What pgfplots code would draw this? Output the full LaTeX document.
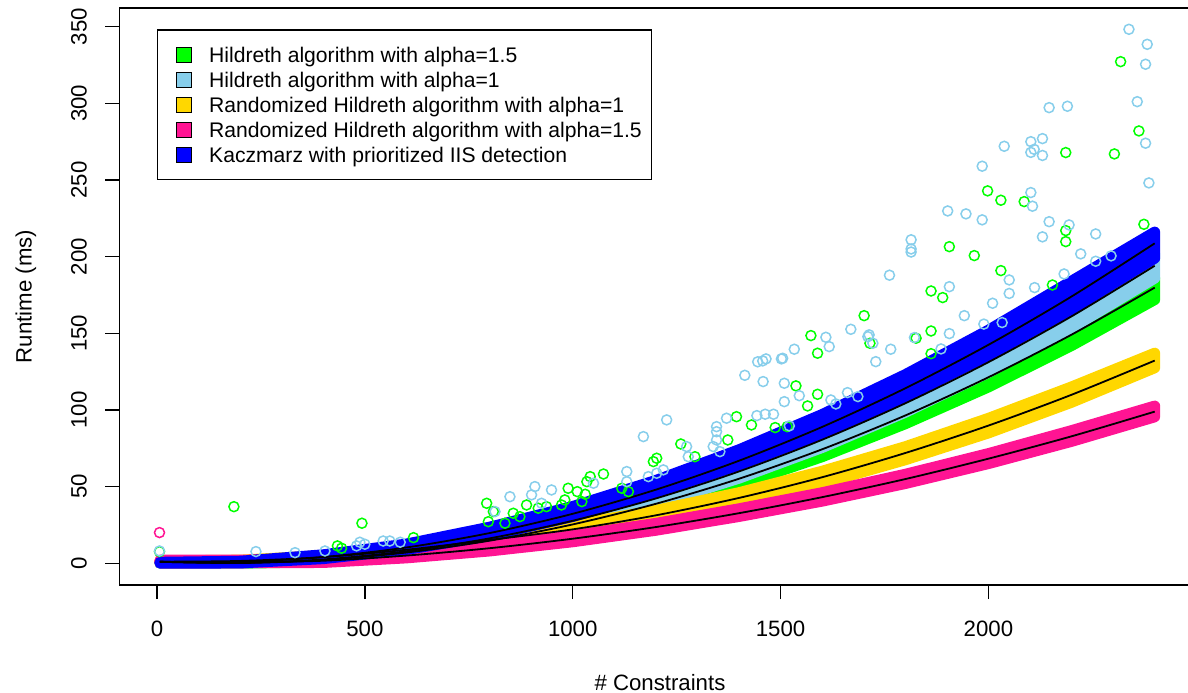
\documentclass[border=0pt]{standalone}
\usepackage{pgfplots}
\pgfplotsset{compat=1.18}
\usepackage{fontspec}
\setmainfont{Liberation Sans}

\definecolor{cgreen}{HTML}{00FF00}
\definecolor{csky}{HTML}{87CEEB}
\definecolor{cgold}{HTML}{FFD700}
\definecolor{cpink}{HTML}{FF1493}
\definecolor{cblue}{HTML}{0000FF}

\pgfplotsset{
  band/.style={draw=#1, fill=#1, line width=11bp, line join=round, line cap=round, mark=none},
  outl/.style={only marks, mark=o, mark size=5bp, mark options={draw=#1, line width=1.5bp}},
  fit/.style={black, line width=1.8bp, smooth, mark=none},
}

\begin{document}
\begin{tikzpicture}
\begin{axis}[
  scale only axis,
  width=1075.3bp, height=577bp,
  xmin=-90.7, xmax=2496,
  ymin=-14.2, ymax=362.2,
  axis x line*=box, axis y line*=left,
  xtick pos=bottom, ytick pos=left,
  xtick={0,500,1000,1500,2000},
  ytick={0,50,...,350},
  tick align=outside,
  major tick length=14bp,
  every tick/.style={black, line width=1.4bp},
  axis line style={black, line width=1.4bp},
  /pgf/number format/assume math mode=true,
  /pgf/number format/1000 sep={},
  tick label style={font=\fontsize{22.3}{26}\selectfont},
  xticklabel style={anchor=base, inner sep=0pt, yshift=-37bp},
  yticklabel style={xshift=-18.6bp, rotate=90, anchor=base, inner sep=0pt},
  xlabel={\# Constraints},
  ylabel={Runtime (ms)},
  every axis x label/.style={at={(axis description cs:0.5,0)}, yshift=-105bp, xshift=3bp,
    anchor=base, inner sep=0pt, text depth=0pt, font=\fontsize{22.3}{26}\selectfont},
  every axis y label/.style={at={(axis description cs:0,0.5)}, xshift=-87.6bp, rotate=90,
    anchor=base, inner sep=0pt, font=\fontsize{22.3}{26}\selectfont},
  legend cell align=left,
  legend style={at={(0.03478,0.96308)}, anchor=north west, draw=black, line width=1.4bp, fill=white,
    inner xsep=9.4bp, inner ysep=12.2bp, row sep=0pt,
    font=\fontsize{21.2}{25}\selectfont,
    nodes={inner sep=0pt, text height=20bp, text depth=5bp},
    /tikz/every odd column/.append style={column sep=17.4bp}},
]
\coordinate (sw) at (rel axis cs:0,0);

% legend swatches
\addlegendimage{legend image code/.code={\path (-8.8bp,0bp); \draw[fill=cgreen, draw=black, line width=1bp] (0bp,-7.5bp) rectangle (15bp,7.5bp);}}
\addlegendimage{legend image code/.code={\path (-8.8bp,0bp); \draw[fill=csky, draw=black, line width=1bp] (0bp,-7.5bp) rectangle (15bp,7.5bp);}}
\addlegendimage{legend image code/.code={\path (-8.8bp,0bp); \draw[fill=cgold, draw=black, line width=1bp] (0bp,-7.5bp) rectangle (15bp,7.5bp);}}
\addlegendimage{legend image code/.code={\path (-8.8bp,0bp); \draw[fill=cpink, draw=black, line width=1bp] (0bp,-7.5bp) rectangle (15bp,7.5bp);}}
\addlegendimage{legend image code/.code={\path (-8.8bp,0bp); \draw[fill=cblue, draw=black, line width=1bp] (0bp,-7.5bp) rectangle (15bp,7.5bp);}}

% Hildreth alpha=1.5 (green)
\addplot[band=cgreen, forget plot] coordinates {
  (7,1) (200,1) (400,3.5) (600,9) (800,17.5) (1000,28.5) (1200,42.5) (1400,59.5) (1600,79) (1800,101.5) (2000,127) (2200,155) (2400,186)
  (2400,172) (2200,142) (2000,115) (1800,91) (1600,69.5) (1400,51) (1200,35.5) (1000,22.5) (800,12.5) (600,5.5) (400,1) (200,0) (7,0)
} -- cycle;
\addplot[outl=cgreen, forget plot] coordinates {
  (6,7.6) (185,36.9) (434,11.3) (444,9.8) (493,26.1) (617,16.7) (793,39.1) (797,27.1) (809,33.7) (837,26.1)
  (857,32.6) (873,30.4) (889,38) (917,35.9) (937,36.9) (973,38) (981,41.3) (989,48.9) (1011,46.7) (1022,40.2)
  (1030,45) (1034,53.2) (1042,56.5) (1074,58.2) (1118,48.9) (1134,46.7) (1194,66.3) (1202,68.5) (1260,77.8)
  (1294,69.5) (1373,80.4) (1394,95.6) (1430,90.2) (1487,88.5) (1516,89.1) (1537,115.7) (1565,102.6)
  (1573,148.5) (1589,137) (1589,110.2) (1701,161.5) (1715,143.5) (1826,146.8) (1862,151.5) (1862,136.7)
  (1862,177.6) (1890,173.3) (1906,206.5) (1966,200.7) (1998,242.9) (2030,236.8) (2030,190.9) (2086,235.9)
  (2154,181.5) (2186,267.9) (2186,217) (2186,209.8) (2303,267) (2318,327.2) (2362,282) (2374,221.1)
};

% Hildreth alpha=1 (sky blue)
\addplot[band=csky, forget plot] coordinates {
  (7,0.8) (200,1.2) (400,4) (600,10) (800,19) (1000,31) (1200,46.5) (1400,65) (1600,86) (1800,110.5) (2000,138) (2200,168.5) (2400,202)
  (2400,186) (2200,153.5) (2000,124.5) (1800,98.5) (1600,75.5) (1400,55.5) (1200,38.5) (1000,24.5) (800,14) (600,6.5) (400,1.8) (200,0) (7,0)
} -- cycle;
\addplot[outl=csky, forget plot] coordinates {
  (6,8) (238,7.6) (332,6.9) (404,8) (480,11.3) (488,13.7) (500,12.4) (544,14.5) (560,14.5) (585,13.7)
  (813,33.7) (849,43.4) (901,44.6) (909,50) (925,39.1) (949,47.8) (1050,52.2) (1130,59.8) (1130,53.2)
  (1182,56.5) (1202,58.7) (1218,60.9) (1170,82.6) (1226,93.5) (1274,76.1) (1278,69.5) (1338,76.1)
  (1346,89.1) (1346,85.8) (1346,80.4) (1354,72.8) (1370,94.6) (1414,122.6) (1443,96.3) (1445,131.4)
  (1457,132) (1463,97.2) (1465,133.3) (1483,97.2) (1502,133.3) (1458,118.5) (1505,133.7) (1509,117.4)
  (1509,105.4) (1521,89.6) (1533,139.6) (1545,109.3) (1609,147.4) (1617,141.3) (1621,106.5) (1633,103.9)
  (1661,111.3) (1669,152.6) (1686,108.7) (1710,147.8) (1713,149) (1722,143.5) (1729,131.5) (1762,187.9)
  (1765,139.6) (1814,211) (1814,205) (1814,203) (1822,147.2) (1886,139.8) (1902,229.8) (1906,180.4)
  (1906,149.8) (1942,161.5) (1946,227.9) (1985,259) (1985,224) (1989,156) (2010,169.6) (2033,157)
  (2038,272) (2050,184.8) (2050,176) (2102,275) (2102,268) (2102,241.8) (2106,232.9) (2110,270)
  (2111,179.8) (2130,277) (2130,266) (2130,212.9) (2146,297.2) (2146,222.8) (2182,188.7) (2190,298.1)
  (2194,220.7) (2222,201.8) (2258,214.8) (2258,197) (2295,200.5) (2338,348.3) (2358,301.1) (2378,325.5)
  (2378,274) (2382,338.5) (2386,248.1)
};

% Randomized Hildreth alpha=1 (gold)
\addplot[band=cgold, forget plot] coordinates {
  (7,1.5) (200,2) (400,5) (600,10) (800,17.5) (1000,25) (1200,34.5) (1400,46) (1600,60) (1800,76) (2000,94.5) (2200,115) (2400,137)
  (2400,127.5) (2200,105) (2000,85) (1800,67.5) (1600,52) (1400,39) (1200,28) (1000,19.5) (800,12.5) (600,6) (400,2) (200,0.5) (7,0.2)
} -- cycle;

% Randomized Hildreth alpha=1.5 (pink)
\addplot[band=cpink, forget plot] coordinates {
  (7,2) (200,2) (400,3) (600,6.5) (800,11.5) (1000,18) (1200,26) (1400,35.5) (1600,46) (1800,58) (2000,71.5) (2200,86.5) (2400,102.5)
  (2400,95.5) (2200,79.5) (2000,65) (1800,52) (1600,40.5) (1400,30.5) (1200,21.5) (1000,14) (800,8) (600,3.5) (400,0.5) (200,0.3) (7,0.3)
} -- cycle;
\addplot[outl=cpink, forget plot] coordinates {(6,20)};

% Kaczmarz (blue)
\addplot[band=cblue, forget plot] coordinates {
  (7,0.6) (200,1.3) (400,5.5) (600,12.5) (800,23.5) (1000,37) (1200,54) (1400,74) (1600,97) (1800,123) (2000,152) (2200,184) (2400,216)
  (2400,199) (2200,165.5) (2000,135.5) (1800,108.5) (1600,84.5) (1400,64) (1200,46) (1000,30.5) (800,18) (600,9) (400,3) (200,0.2) (7,0)
} -- cycle;

% fitted curves
\addplot[fit, forget plot] coordinates {(7,0.92) (200,0.13) (400,2.12) (600,6.99) (800,14.71) (1000,25.31) (1200,38.77) (1400,55.11) (1600,74.32) (1800,96.38) (2000,121.32) (2200,149.12) (2400,179.8)};
\addplot[fit, forget plot] coordinates {(7,0.92) (200,0.2) (400,2.47) (600,7.81) (800,16.22) (1000,27.7) (1200,42.25) (1400,59.87) (1600,80.56) (1800,104.33) (2000,131.16) (2200,161.06) (2400,194.04)};
\addplot[fit, forget plot] coordinates {(7,1.0) (200,1.5) (400,4.0) (600,8.8) (800,15.2) (1000,22.1) (1200,31.25) (1400,42.6) (1600,56.1) (1800,71.9) (2000,89.8) (2200,109.9) (2400,132.2)};
\addplot[fit, forget plot] coordinates {(7,0.9) (200,0.6) (400,1.63) (600,5.0) (800,9.8) (1000,16.0) (1200,23.6) (1400,32.65) (1600,43.1) (1800,54.9) (2000,68.2) (2200,82.8) (2400,98.9)};
\addplot[fit, forget plot] coordinates {(7,0.94) (200,0.93) (400,4.02) (600,10.27) (800,19.68) (1000,32.25) (1200,47.98) (1400,66.86) (1600,88.91) (1800,114.12) (2000,142.48) (2200,174.0) (2400,208.68)};

\legend{Hildreth algorithm with alpha=1.5, Hildreth algorithm with alpha=1, Randomized Hildreth algorithm with alpha=1, Randomized Hildreth algorithm with alpha=1.5, Kaczmarz with prioritized IIS detection}
\end{axis}
\pgfresetboundingbox
\path (sw) ++(-119.3bp,-108bp) rectangle ++(1188bp,693bp);
\end{tikzpicture}
\end{document}
